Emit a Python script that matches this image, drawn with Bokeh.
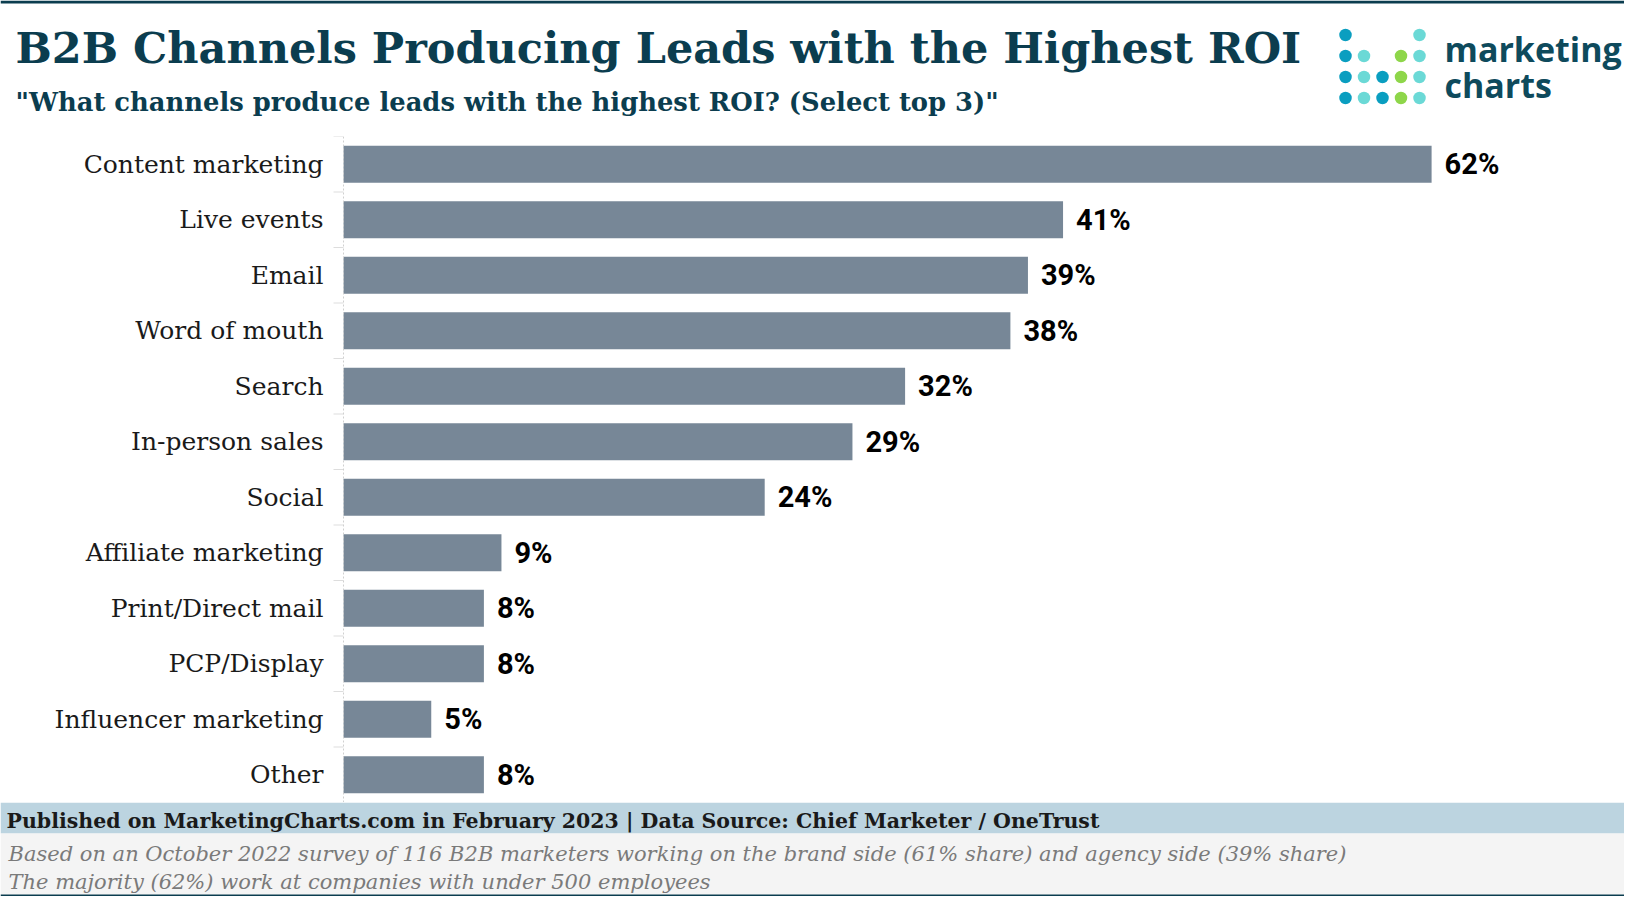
import math
from bokeh.plotting import figure
from bokeh.models import Range1d, FactorRange, ColumnDataSource, Span
from bokeh.layouts import column
from bokeh.core.properties import value
from bokeh.embed import file_html
from bokeh.resources import INLINE

# ---------------- data ----------------
categories = ["Content marketing", "Live events", "Email", "Word of mouth", "Search",
              "In-person sales", "Social", "Affiliate marketing", "Print/Direct mail",
              "PCP/Display", "Influencer marketing", "Other"]
values = [62, 41, 39, 38, 32, 29, 24, 9, 8, 8, 5, 8]
value_labels = [f"{v}%" for v in values]

title_text = "B2B Channels Producing Leads with the Highest ROI"
subtitle_text = "\"What channels produce leads with the highest ROI? (Select top 3)\""
source_text = "Published on MarketingCharts.com in February 2023 | Data Source: Chief Marketer / OneTrust"
note_lines = ["Based on an October 2022 survey of 116 B2B marketers working on the brand side (61% share) and agency side (39% share)",
              "The majority (62%) work at companies with under 500 employees"]

# logo dot grid (column, row, colour key)
logo_cols = [0, 4, 0, 1, 3, 4, 0, 1, 2, 3, 4, 0, 1, 2, 3, 4]
logo_rows = [0, 0, 1, 1, 1, 1, 2, 2, 2, 2, 2, 3, 3, 3, 3, 3]
logo_keys = ["b", "t", "b", "t", "g", "t", "b", "t", "b", "g", "t", "b", "t", "b", "g", "t"]
logo_palette = {"b": "#0a9ec0", "t": "#6bd9d6", "g": "#8ed64a"}

W = 1624
DARK = "#0b3d4f"
SERIF = "DejaVu Serif"

def blank(fig):
    fig.xgrid.visible = False
    fig.ygrid.visible = False
    fig.outline_line_color = None
    fig.background_fill_color = "white"
    fig.border_fill_color = "white"

# ---------------- header ----------------
HH = 130
header = figure(width=W, height=HH, x_range=Range1d(0, W), y_range=Range1d(HH, 0),
                x_axis_location=None, y_axis_location=None,
                output_backend="svg", toolbar_location=None, min_border=0)
blank(header)
header.quad(left=[0], right=[W], top=[0], bottom=[3], color=DARK, line_color=None)
header.text(x=[15], y=[47], text=[title_text], text_font=value(SERIF), text_font_style="bold",
            text_font_size="43px", text_color=DARK, text_baseline="alphabetic")
header.text(x=[15], y=[101], text=[subtitle_text], text_font=value(SERIF), text_font_style="bold",
            text_font_size="25.8px", text_color=DARK, text_baseline="alphabetic")
lx = [1345 + 18.5 * c for c in logo_cols]
ly = [34.5 + 21 * r for r in logo_rows]
lc = [logo_palette[k] for k in logo_keys]
header.scatter(x=lx, y=ly, size=12.5, color=lc, line_color=None)
header.text(x=[1444, 1444], y=[48, 84], text=["marketing", "charts"], text_font=value("Open Sans"),
            text_font_style="bold", text_font_size="34px", text_color="#0e4a5c",
            text_baseline="alphabetic")

# ---------------- main chart ----------------
MH = 672
X0 = 343          # pixel position of the value axis origin
PXPCT = 17.55     # pixels per percentage point
src = ColumnDataSource(dict(cat=categories, val=values, lab=value_labels))
p = figure(width=W, height=MH, y_range=FactorRange(factors=categories[::-1]),
           x_range=Range1d(-X0 / PXPCT, (W - X0) / PXPCT),
           x_axis_location=None, y_axis_location=None,
           output_backend="svg", toolbar_location=None,
           min_border_left=0, min_border_right=0, min_border_top=6, min_border_bottom=0)
blank(p)
p.hbar(y="cat", right="val", left=0, height=0.667, source=src, color="#778797", line_color=None)
p.text(x="val", y="cat", text="lab", source=src, x_offset=13, text_baseline="middle",
       text_align="left", text_font=value("Roboto"), text_font_style="bold",
       text_font_size="29px", text_color="black")
# category axis: labels, line and boundary ticks
p.text(x=0, y="cat", text="cat", source=src, x_offset=-20, text_baseline="middle",
       text_align="right", text_font=value(SERIF), text_font_size="25px", text_color="#1a1a1a")
p.add_layout(Span(location=0, dimension="height", line_color="#d0d0d0", line_width=1,
                  line_dash="2 2"))
tick_pos = [(c, 0.5) for c in categories] + [(categories[-1], -0.5)]
p.ray(x=0, y=tick_pos, length=10, length_units="screen", angle=math.pi,
      line_color="#dddddd", line_width=1)

# ---------------- footer ----------------
FH = 94
footer = figure(width=W, height=FH, x_range=Range1d(0, W), y_range=Range1d(FH, 0),
                x_axis_location=None, y_axis_location=None,
                output_backend="svg", toolbar_location=None, min_border=0)
blank(footer)
footer.quad(left=[0], right=[W], top=[0], bottom=[31], color="#bcd4e0", line_color=None)
footer.quad(left=[0], right=[W], top=[31], bottom=[92], color="#f4f4f4", line_color=None)
footer.quad(left=[0], right=[W], top=[92], bottom=[94], color=DARK, line_color=None)
footer.text(x=[6], y=[18], text=[source_text], text_font=value(SERIF), text_font_style="bold",
            text_font_size="20.5px", text_color="#1a1a1a", text_baseline="alphabetic")
footer.text(x=[8, 8], y=[51, 79], text=note_lines, text_font=value(SERIF), text_font_style="italic",
            text_font_size="21px", text_color="#7a7a7a", text_baseline="alphabetic")

layout = column(header, p, footer, spacing=0)
open("out.html", "w").write(file_html(layout, INLINE))
